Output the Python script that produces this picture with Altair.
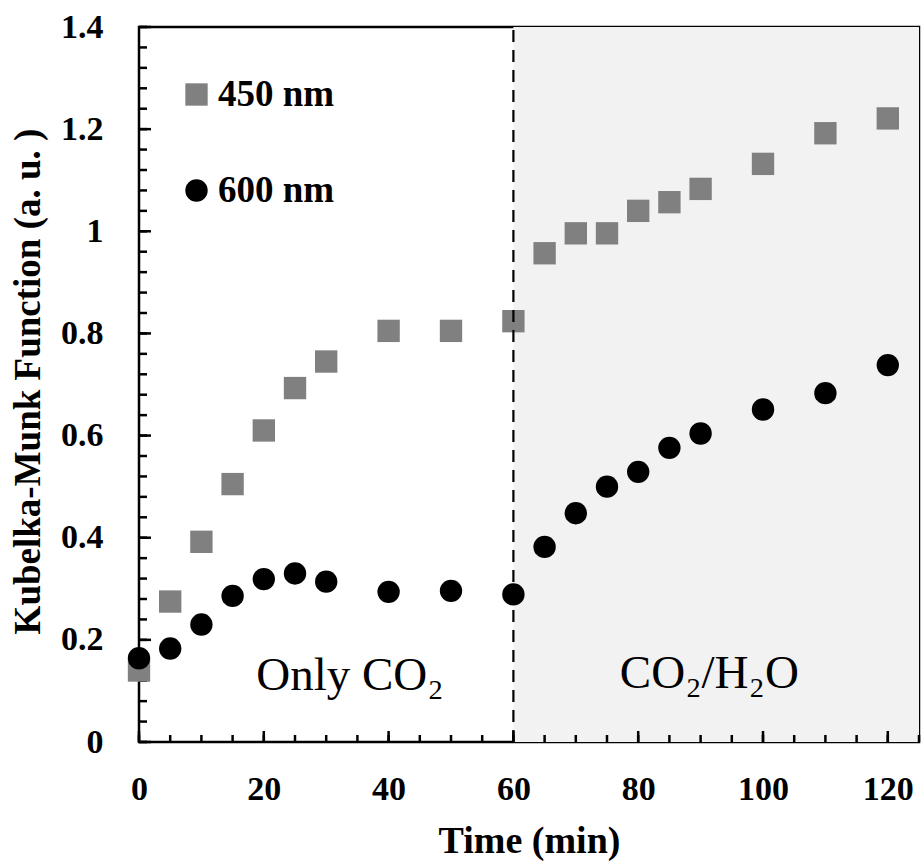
import altair as alt
import pandas as pd

# ---------------- data ----------------
time_min = [0, 5, 10, 15, 20, 25, 30, 40, 50, 60, 65, 70, 75, 80, 85, 90, 100, 110, 120]
km_450 = [0.140, 0.275, 0.392, 0.505, 0.610, 0.693, 0.745, 0.805, 0.805, 0.824,
          0.957, 0.996, 0.996, 1.040, 1.057, 1.083, 1.132, 1.192, 1.221]
km_600 = [0.164, 0.183, 0.230, 0.286, 0.319, 0.330, 0.314, 0.294, 0.296, 0.289,
          0.382, 0.448, 0.500, 0.529, 0.576, 0.604, 0.651, 0.683, 0.738]
series_names = ["450 nm", "600 nm"]
series_colors = ["#808080", "#000000"]
series_shapes = ["square", "circle"]

switch_time = [60]
shade_x = [60, 125]
y_range = [0, 1.4]
x_range = [0, 125]

x_major = [0, 20, 40, 60, 80, 100, 120]
x_minor = [i * 5 for i in range(26)]
y_major = [0, 0.2, 0.4, 0.6, 0.8, 1, 1.2, 1.4]
y_minor = [round(i * 0.04, 2) for i in range(36)]

ann_text = ["Only CO\u2082", "CO\u2082/H\u2082O"]
ann_x = [33.8, 91.4]
ann_y = [0.102, 0.106]

# ---------------- tables ----------------
points = pd.DataFrame({
    "time": time_min + time_min,
    "km": km_450 + km_600,
    "series": [series_names[0]] * len(time_min) + [series_names[1]] * len(time_min),
})
shade = pd.DataFrame({"x0": [shade_x[0]], "x1": [shade_x[1]], "y0": [y_range[0]], "y1": [y_range[1]]})
divider = pd.DataFrame({"x": switch_time, "y0": [y_range[0]], "y1": [y_range[1]]})
ann = pd.DataFrame({"x": ann_x, "y": ann_y, "t": ann_text})
xt_minor = pd.DataFrame({"v": x_minor})
xt_major = pd.DataFrame({"v": x_major})
yt_minor = pd.DataFrame({"v": y_minor})
yt_major = pd.DataFrame({"v": y_major})

W, H = 780, 715
FONT = "Liberation Serif"

xs = alt.Scale(domain=x_range, nice=False, zero=False)
ys = alt.Scale(domain=y_range, nice=False, zero=False)

axis_x_main = alt.Axis(values=x_major, format="d", ticks=False, domain=False, grid=False,
                       labelFlush=False,
                       labelFont=FONT, labelFontSize=34, labelFontWeight="bold", labelColor="black",
                       labelPadding=57, labelBaseline="alphabetic",
                       title="Time (min)", titleFont=FONT, titleFontSize=38, titleFontWeight="bold",
                       titleColor="black", titleY=110, titleBaseline="alphabetic")
axis_y_main = alt.Axis(values=y_major, format="~g", ticks=False, domain=False, grid=False,
                       labelFlush=False,
                       labelFont=FONT, labelFontSize=34, labelFontWeight="bold", labelColor="black",
                       labelPadding=36,
                       title="Kubelka-Munk Function (a. u. )", titleFont=FONT, titleFontSize=37,
                       titleFontWeight="bold", titleColor="black", titleX=-111, titleY=354,
                       titleAngle=270, titleBaseline="middle", titleAlign="center")

shade_layer = alt.Chart(shade).mark_rect(color="#f2f2f2").encode(
    x=alt.X("x0:Q", scale=xs, axis=axis_x_main),
    x2="x1:Q",
    y=alt.Y("y0:Q", scale=ys, axis=axis_y_main),
    y2="y1:Q",
)

legend = alt.Legend(orient="none", legendX=39, legendY=49, title=None,
                    symbolSize=500, symbolStrokeWidth=0, labelFont=FONT, labelFontSize=37,
                    labelFontWeight="bold", labelColor="black", labelOffset=3, rowPadding=58,
                    padding=0)

point_layer = alt.Chart(points).mark_point(filled=True, size=500, opacity=1).encode(
    x=alt.X("time:Q", scale=xs, axis=None),
    y=alt.Y("km:Q", scale=ys, axis=None),
    color=alt.Color("series:N", scale=alt.Scale(domain=series_names, range=series_colors), legend=legend),
    shape=alt.Shape("series:N", scale=alt.Scale(domain=series_names, range=series_shapes), legend=legend),
)

rule_layer = alt.Chart(divider).mark_rule(color="black", strokeWidth=2.2, strokeDash=[12, 8]).encode(
    x=alt.X("x:Q", scale=xs, axis=None),
    y=alt.Y("y0:Q", scale=ys, axis=None),
    y2="y1:Q",
)

tick_style = dict(color="black", strokeWidth=2.5)
xminor_layer = alt.Chart(xt_minor).mark_rule(**tick_style).encode(
    x=alt.X("v:Q", scale=xs, axis=None), y=alt.value(H), y2=alt.value(H - 7))
xmajor_layer = alt.Chart(xt_major).mark_rule(**tick_style).encode(
    x=alt.X("v:Q", scale=xs, axis=None), y=alt.value(H), y2=alt.value(H - 11))
yminor_layer = alt.Chart(yt_minor).mark_rule(**tick_style).encode(
    y=alt.Y("v:Q", scale=ys, axis=None), x=alt.value(0), x2=alt.value(8))
ymajor_layer = alt.Chart(yt_major).mark_rule(**tick_style).encode(
    y=alt.Y("v:Q", scale=ys, axis=None), x=alt.value(0), x2=alt.value(12))

text_layer = alt.Chart(ann).mark_text(font=FONT, fontSize=47, color="black",
                                      align="center", baseline="alphabetic").encode(
    x=alt.X("x:Q", scale=xs, axis=None),
    y=alt.Y("y:Q", scale=ys, axis=None),
    text="t:N",
)

chart = alt.layer(shade_layer, xminor_layer, xmajor_layer, yminor_layer, ymajor_layer,
                  point_layer, rule_layer, text_layer).resolve_axis(
    x="independent", y="independent"
).properties(
    width=W, height=H,
    autosize=alt.AutoSizeParams(type="none"),
    padding={"left": 139, "top": 27, "right": 4, "bottom": 120},
    background="white",
).configure_view(stroke="black", strokeWidth=2.5)

chart.save("out.html", embed_options={"renderer": "svg", "actions": False})
